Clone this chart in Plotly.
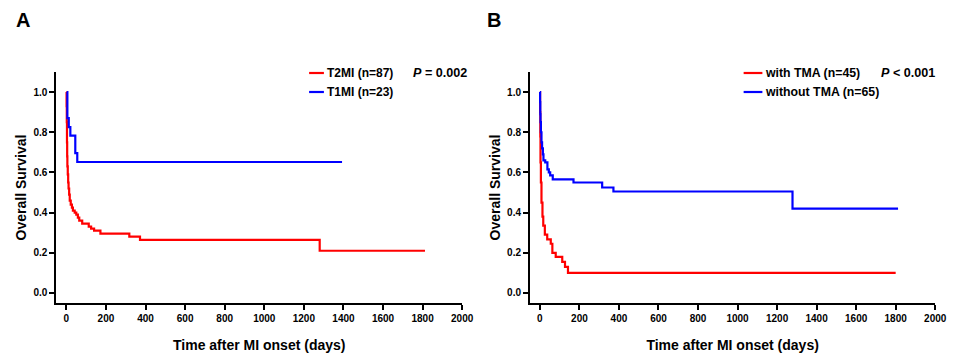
import plotly.graph_objects as go
from plotly.subplots import make_subplots

# ---- Data ----
x_ticks = [0, 200, 400, 600, 800, 1000, 1200, 1400, 1600, 1800, 2000]
y_ticks = [0.0, 0.2, 0.4, 0.6, 0.8, 1.0]

# Panel A
t2mi_days = [0, 1, 2, 3, 4, 5, 7, 9, 11, 14, 17, 22, 28, 33, 42, 50, 58, 65, 80, 113, 125, 140, 172, 318, 372, 1280, 1812]
t2mi_surv = [1.0, 0.93, 0.85, 0.75, 0.68, 0.63, 0.59, 0.55, 0.52, 0.49, 0.46, 0.44, 0.425, 0.41, 0.40, 0.39, 0.375, 0.36, 0.345, 0.33, 0.32, 0.31, 0.295, 0.28, 0.264, 0.21, 0.21]
t1mi_days = [2, 5, 12, 20, 45, 55, 1393]
t1mi_surv = [1.0, 0.87, 0.826, 0.783, 0.696, 0.652, 0.652]

# Panel B
tma_days = [0, 1, 2, 3, 5, 8, 13, 17, 25, 37, 55, 63, 80, 113, 127, 142, 1800]
tma_surv = [1.0, 0.90, 0.78, 0.65, 0.55, 0.45, 0.38, 0.335, 0.29, 0.267, 0.245, 0.20, 0.18, 0.155, 0.13, 0.10, 0.10]
notma_days = [0, 1, 2, 3, 5, 8, 11, 15, 18, 27, 38, 45, 52, 65, 170, 315, 372, 1278, 1812]
notma_surv = [1.0, 0.95, 0.89, 0.85, 0.80, 0.75, 0.72, 0.69, 0.66, 0.65, 0.615, 0.60, 0.585, 0.565, 0.55, 0.525, 0.505, 0.42, 0.42]

RED = "#FF0000"
BLUE = "#0000FF"
W, H = 964, 362
FONT = "Liberation Sans, Arial, sans-serif"

fig = make_subplots(rows=1, cols=2)

fig.add_trace(go.Scatter(x=t2mi_days, y=t2mi_surv, mode="lines", line=dict(color=RED, width=2.2, shape="hv"),
                         name="T2MI (n=87)", showlegend=False), row=1, col=1)
fig.add_trace(go.Scatter(x=t1mi_days, y=t1mi_surv, mode="lines", line=dict(color=BLUE, width=2.2, shape="hv"),
                         name="T1MI (n=23)", showlegend=False), row=1, col=1)
fig.add_trace(go.Scatter(x=tma_days, y=tma_surv, mode="lines", line=dict(color=RED, width=2.2, shape="hv"),
                         name="with TMA (n=45)", showlegend=False), row=1, col=2)
fig.add_trace(go.Scatter(x=notma_days, y=notma_surv, mode="lines", line=dict(color=BLUE, width=2.2, shape="hv"),
                         name="without TMA (n=65)", showlegend=False), row=1, col=2)

ydom = [1 - 303 / H, 1 - 72 / H]
axis_common = dict(showline=True, linewidth=2, linecolor="black", ticks="outside", ticklen=5, tickwidth=2,
                   tickcolor="black", showgrid=False, zeroline=False,
                   tickfont=dict(family=FONT, size=10, color="black", weight="bold"))

fig.update_xaxes(**axis_common, tickvals=x_ticks, range=[-51, 2000],
                 title=dict(text="Time after MI onset (days)", standoff=17,
                            font=dict(family=FONT, size=14, color="black", weight="bold")))
fig.update_yaxes(**axis_common, tickvals=y_ticks, tickformat=".1f", range=[-0.05, 1.10], domain=ydom,
                 title=dict(text="Overall Survival", standoff=3,
                            font=dict(family=FONT, size=14, color="black", weight="bold")))
fig.update_xaxes(domain=[57 / W, 468 / W], row=1, col=1)
fig.update_xaxes(domain=[536.7 / W, 947 / W], range=[-50, 2000], row=1, col=2)

# Panel letters, legend entries, P-values
anns = []
def txt(x, y, s, size=12, anchor="left"):
    anns.append(dict(x=x / W, y=1 - y / H, xref="paper", yref="paper", text=s, showarrow=False,
                     xanchor=anchor, yanchor="middle",
                     font=dict(family=FONT, size=size, color="black", weight="bold")))

txt(14, 20, "A", size=20)
txt(491, 20, "B", size=20)
txt(329.5, 73, "T2MI (n=87)")
txt(329.5, 92, "T1MI (n=23)")
txt(416.5, 73, "<i>P</i> = 0.002", size=12.6)
txt(773, 73, "with TMA (n=45)", size=12.3)
txt(773, 92, "without TMA (n=65)", size=12.3)
txt(890, 73, "<i>P</i> < 0.001", size=12.6)

shapes = []
def seg(x0, x1, y, color):
    shapes.append(dict(type="line", xref="paper", yref="paper", x0=x0 / W, x1=x1 / W,
                       y0=1 - y / H, y1=1 - y / H, line=dict(color=color, width=2.2)))
seg(313, 328, 73, RED)
seg(313, 328, 92, BLUE)
seg(753, 772, 73, RED)
seg(753, 772, 92, BLUE)

fig.update_layout(width=W, height=H, margin=dict(l=0, r=0, t=0, b=0),
                  paper_bgcolor="white", plot_bgcolor="white",
                  annotations=anns, shapes=shapes, showlegend=False,
                  font=dict(family=FONT, color="black"))

fig.write_html("out.html", config={"displayModeBar": False},
               post_script="document.body.style.margin='0';document.body.style.overflow='hidden';"
                           "document.documentElement.style.overflow='hidden';")
